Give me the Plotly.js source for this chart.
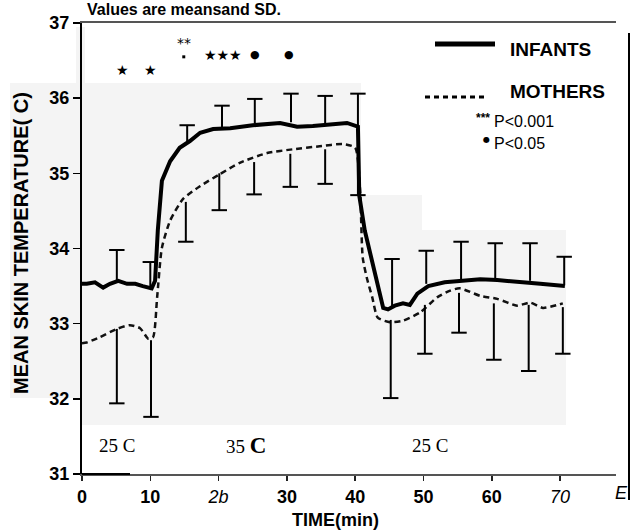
<!DOCTYPE html>
<html>
<head>
<meta charset="utf-8">
<script src="https://cdn.plot.ly/plotly-3.0.1.min.js"></script>
<style>html,body{margin:0;padding:0;background:#fff;}#chart{width:633px;height:530px;}</style>
</head>
<body>
<div id="chart"></div>
<script>
// ---- data ----
const infantTime = [0,0.7,1.9,3.1,4.1,5.3,6.6,7.8,8.9,10.2,10.7,11.1,11.7,12.9,14.3,15.8,17.3,19.2,21.7,25.0,29.0,31.5,33.8,36.7,38.8,40.4,40.6,41.4,42.6,44.1,44.8,45.8,47.0,48.0,49.1,50.7,53.1,55.3,58.3,60.8,64.1,67.1,70.7];
const infantTemp = [33.53,33.53,33.55,33.48,33.53,33.57,33.53,33.53,33.50,33.47,33.57,34.24,34.90,35.16,35.34,35.43,35.54,35.59,35.60,35.64,35.67,35.62,35.63,35.66,35.67,35.62,34.70,34.24,33.80,33.21,33.19,33.24,33.27,33.25,33.40,33.50,33.55,33.57,33.59,33.58,33.56,33.53,33.50];

const motherTime = [0,0.7,2.6,5.1,7.0,8.5,9.7,10.4,11.0,11.7,12.9,14.8,17.3,20.2,23.1,27.1,30.9,34.8,38.2,40.0,40.7,41.1,41.7,42.5,43.3,45.1,47.0,49.5,52.0,53.9,55.3,58.3,60.8,63.7,65.6,67.5,70.4];
const motherTemp = [32.74,32.75,32.82,32.93,32.98,32.94,32.80,32.82,33.35,34.01,34.37,34.66,34.83,34.99,35.14,35.27,35.32,35.36,35.39,35.34,34.80,33.88,33.61,33.35,33.08,33.02,33.04,33.15,33.35,33.44,33.47,33.37,33.33,33.24,33.28,33.21,33.27];

const infantBarTime  = [5.1,10.0,15.4,20.5,25.3,30.6,35.6,40.4,45.4,50.4,55.5,60.5,65.6,70.6];
const infantBarMean  = [33.55,33.50,35.43,35.60,35.66,35.68,35.64,35.63,33.22,33.53,33.58,33.59,33.57,33.51];
const infantBarUpper = [33.98,33.82,35.64,35.90,35.99,36.06,36.03,36.06,33.86,33.97,34.09,34.07,34.07,33.89];

const motherBarTime  = [5.1,10.1,15.2,20.1,25.2,30.5,35.6,40.4,45.2,50.2,55.2,60.3,65.4,70.4];
const motherBarMean  = [32.93,32.78,34.62,35.00,35.15,35.26,35.32,35.37,33.05,33.25,33.41,33.27,33.25,33.22];
const motherBarLower = [31.94,31.76,34.09,34.51,34.72,34.82,34.86,34.71,32.01,32.60,32.88,32.52,32.37,32.60];

// significance symbols above the curves
const sigTime   = [6.0,10.0,14.9,20.6,25.3,30.3];
const sigLevel  = [36.37,36.37,36.73,36.58,36.58,36.58];
const sigLabel  = ['★','★','**','★★★','●','●'];
const dotTime   = [14.9];
const dotLevel  = [36.55];

const xTickVals = [0,10,20,30,40,50,60,70];
const xTickText = ['0','10','<span style="font-weight:normal"><i>2b</i></span>','30','40','50','60','<span style="font-weight:normal"><i>70</i></span>'];
const yTickVals = [31,32,33,34,35,36,37];

const phaseLabels = ['25 C','35 <b><span style="font-size:23px">C</span></b>','25 C'];

// ---- build traces ----
function segs(t, a, b){
  const xs=[], ys=[];
  for(let i=0;i<t.length;i++){ xs.push(t[i],t[i],null); ys.push(a[i],b[i],null); }
  return {xs, ys};
}
const iSeg = segs(infantBarTime, infantBarMean, infantBarUpper);
const mSeg = segs(motherBarTime, motherBarMean, motherBarLower);

const traces = [
  {x: motherTime, y: motherTemp, mode:'lines', line:{color:'#111', width:2.5, dash:'6px,4px', shape:'spline', smoothing:0.6}, hoverinfo:'skip'},
  {x: infantTime, y: infantTemp, mode:'lines', line:{color:'#000', width:4, shape:'linear'}, hoverinfo:'skip'},
  {x: iSeg.xs, y: iSeg.ys, mode:'lines', line:{color:'#000', width:2}, hoverinfo:'skip'},
  {x: mSeg.xs, y: mSeg.ys, mode:'lines', line:{color:'#000', width:2}, hoverinfo:'skip'},
  {x: infantBarTime, y: infantBarUpper, mode:'markers', marker:{symbol:'line-ew', size:11, line:{width:2, color:'#000'}}, hoverinfo:'skip'},
  {x: motherBarTime, y: motherBarLower, mode:'markers', marker:{symbol:'line-ew', size:11, line:{width:2, color:'#000'}}, hoverinfo:'skip'},
  {x: dotTime, y: dotLevel, mode:'markers', marker:{symbol:'square', size:3, color:'#000'}, hoverinfo:'skip', cliponaxis:false}
];

// pixel -> paper helpers for decorations
const L=82, R=616, T=23, B=474;
const px = x => (x-L)/(R-L);
const py = y => (B-y)/(B-T);

const grey = '#f4f4f4';
const rect = (x0,y0,x1,y1) => ({type:'rect', xref:'paper', yref:'paper', x0:px(x0), x1:px(x1), y0:py(y1), y1:py(y0), fillcolor:grey, line:{width:0}, layer:'below'});

const shapes = [
  rect(10,83,82,398),
  rect(76,27,85,83),
  rect(82,83,361,425),
  rect(361,195,422,425),
  rect(422,230,566,425),
  // legend lines
  {type:'line', xref:'paper', yref:'paper', x0:px(435), x1:px(495), y0:py(44), y1:py(44), line:{color:'#000', width:5}},
  {type:'line', xref:'paper', yref:'paper', x0:px(425), x1:px(487), y0:py(97), y1:py(97), line:{color:'#000', width:3, dash:'5px,4px'}},
  // right frame edge from the scan
  {type:'line', xref:'paper', yref:'paper', x0:px(629), x1:px(629), y0:py(33), y1:py(500), line:{color:'#000', width:2}},
  // darker start of the bottom axis
  {type:'line', xref:'paper', yref:'paper', x0:px(82), x1:px(130), y0:py(474), y1:py(474), line:{color:'#000', width:2}}
];

const bold = 'Liberation Sans, Arial, sans-serif';
const annotations = [];
function ann(o){ annotations.push(Object.assign({showarrow:false, xref:'paper', yref:'paper'}, o)); }

// top caption (clipped in the scan; kept just inside the page)
ann({x:px(86), y:py(0), xanchor:'left', yanchor:'top', text:'<b>Values are meansand SD.</b>', font:{family:bold, size:16, color:'#000'}, borderpad:0});
// axis titles
ann({x:px(21), y:py(243), xanchor:'center', yanchor:'middle', textangle:-90, text:'<b>MEAN SKIN TEMPERATURE( C)</b>', font:{family:bold, size:20, color:'#000'}});
ann({x:px(335), y:py(520), xanchor:'center', yanchor:'middle', text:'<b>TIME(min)</b>', font:{family:bold, size:18, color:'#000'}});
// clipped "E" tick label
ann({x:px(621), y:py(493), xanchor:'center', yanchor:'middle', text:'<i>E</i>', font:{family:bold, size:18, color:'#000'}});
// phase labels
const phaseX = [117,246,430];
phaseLabels.forEach((t,i)=>ann({x:px(phaseX[i]), y:py(445), xanchor:'center', yanchor:'middle', text:t, font:{family:'Liberation Serif, Times New Roman, serif', size:19, color:'#000'}}));
// significance markers (data coordinates)
sigLabel.forEach((s,i)=>{
  const sz = s==='●' ? 11 : 14;
  annotations.push({showarrow:false, xref:'x', yref:'y', x:sigTime[i], y:sigLevel[i], xanchor:'center', yanchor:'middle', text:s, borderpad:0, font:{family:'DejaVu Sans, sans-serif', size:sz, color:'#000'}});
});
// legend texts
ann({x:px(508), y:py(50), xanchor:'left', yanchor:'middle', text:'<b>INFANTS</b>', font:{family:bold, size:19, color:'#000'}});
ann({x:px(508), y:py(92), xanchor:'left', yanchor:'middle', text:'<b>MOTHERS</b>', font:{family:bold, size:19, color:'#000'}});
ann({x:px(483), y:py(118), xanchor:'center', yanchor:'middle', text:'<b>***</b>', font:{family:bold, size:12, color:'#000'}});
ann({x:px(492), y:py(121), xanchor:'left', yanchor:'middle', text:'P&lt;0.001', font:{family:bold, size:16, color:'#000'}});
ann({x:px(486), y:py(139), xanchor:'center', yanchor:'middle', text:'●', font:{family:'DejaVu Sans, sans-serif', size:8, color:'#000'}});
ann({x:px(492), y:py(143), xanchor:'left', yanchor:'middle', text:'P&lt;0.05', font:{family:bold, size:16, color:'#000'}});

const layout = {
  width:633, height:530, autosize:false,
  margin:{l:L, r:633-R, t:T, b:530-B},
  paper_bgcolor:'#fff', plot_bgcolor:'rgba(0,0,0,0)',
  showlegend:false,
  xaxis:{range:[0,(R-L)/6.83], tickvals:xTickVals, ticktext:xTickText, showgrid:false, zeroline:false,
         showline:true, linecolor:'#555', linewidth:2, mirror:true,
         ticks:'outside', ticklen:5, tickwidth:1.5, tickcolor:'#222',
         tickfont:{family:bold, size:18, color:'#000', weight:'bold'}},
  yaxis:{range:[31,37], tickvals:yTickVals, showgrid:false, zeroline:false,
         showline:true, linecolor:'#000', linewidth:2,
         ticks:'outside', ticklen:7, tickwidth:1.5, tickcolor:'#000',
         tickfont:{family:bold, size:18, color:'#000', weight:'bold'}},
  shapes:shapes, annotations:annotations
};

Plotly.newPlot('chart', traces, layout, {staticPlot:true, displayModeBar:false});
</script>
</body>
</html>
